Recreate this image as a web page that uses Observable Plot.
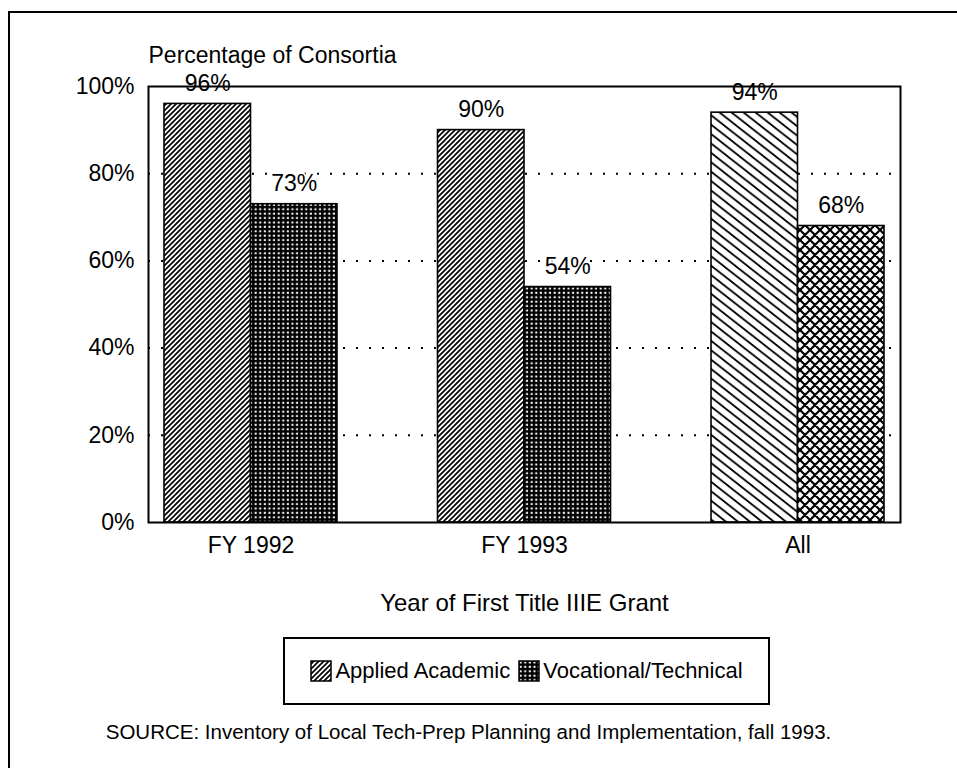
<!DOCTYPE html>
<html>
<head>
<meta charset="utf-8">
<script src="https://cdn.jsdelivr.net/npm/d3@7"></script>
<script src="https://cdn.jsdelivr.net/npm/@observablehq/plot@0.6"></script>
<style>
  html, body { margin: 0; padding: 0; background: #fff; }
  body { font-family: "Liberation Sans", Arial, Helvetica, sans-serif; color: #000; }
  #page { position: relative; width: 957px; height: 768px; overflow: hidden; background: #fff; }
  #border { position: absolute; left: 8px; top: 11px; width: 1200px; height: 1200px;
            border-left: 2px solid #000; border-top: 2px solid #000; box-sizing: border-box; }
  #chart { position: absolute; left: 0; top: 0; }
  #legend { position: absolute; left: 283px; top: 637px; width: 487px; height: 68px;
            border: 2px solid #000; box-sizing: border-box; display: flex; align-items: center;
            justify-content: center; font-size: 22px; background: #fff; }
  #legend .item { display: flex; align-items: center; }
  #legend .item + .item { margin-left: 8px; }
  #legend svg { margin-right: 3px; }
  #caption { position: absolute; left: -10px; width: 957px; top: 720px; text-align: center; font-size: 20.5px; }
  #defs { position: absolute; width: 0; height: 0; overflow: hidden; }
</style>
</head>
<body>
<div id="page">
  <svg id="defs" width="0" height="0">
    <defs>
      <pattern id="hatchDense" patternUnits="userSpaceOnUse" width="5" height="5">
        <rect width="5" height="5" fill="#fff"/>
        <path d="M0,5L5,0M-1,1L1,-1M4,6L6,4" stroke="#000" stroke-width="1.7"/>
      </pattern>
      <pattern id="hatchSparse" patternUnits="userSpaceOnUse" width="12" height="9.4">
        <rect width="12" height="9.4" fill="#fff"/>
        <path d="M0,0L12,9.4M10,-1.57L14,1.57M-2,7.83L2,10.97" stroke="#000" stroke-width="1.8"/>
      </pattern>
      <pattern id="gridDense" patternUnits="userSpaceOnUse" width="4.6" height="4.4">
        <rect width="4.6" height="4.4" fill="#000"/>
        <rect x="1.6" y="1.5" width="2.1" height="1.9" fill="#fff"/>
      </pattern>
      <pattern id="crossHatch" patternUnits="userSpaceOnUse" width="10" height="10">
        <rect width="10" height="10" fill="#fff"/>
        <path d="M0,0L10,10M8,-2L12,2M-2,8L2,12M0,10L10,0M-2,2L2,-2M8,12L12,8" stroke="#000" stroke-width="2.2"/>
      </pattern>
    </defs>
  </svg>
  <div id="border"></div>
  <div id="chart"></div>
  <div id="legend">
    <div class="item">
      <svg width="22" height="22"><rect x="1" y="1" width="20" height="20" fill="url(#hatchDense)" stroke="#000" stroke-width="1.5"/></svg>
      <span id="leg1"></span>
    </div>
    <div class="item">
      <svg width="22" height="22"><rect x="1" y="1" width="20" height="20" fill="url(#gridDense)" stroke="#000" stroke-width="1.5"/></svg>
      <span id="leg2"></span>
    </div>
  </div>
  <div id="caption"></div>
</div>
<script>
// ---- data ----
const groups = ["FY 1992", "FY 1993", "All"];
const seriesNames = ["Applied Academic", "Vocational/Technical"];
const appliedValues = [96, 90, 94];
const vocationalValues = [73, 54, 68];
const yTickValues = [0, 20, 40, 60, 80, 100];
const gridValues = [20, 40, 60, 80];
const yTitle = "Percentage of Consortia";
const xTitle = "Year of First Title IIIE Grant";
const captionText = "SOURCE: Inventory of Local Tech-Prep Planning and Implementation, fall 1993.";

// ---- table ----
const rows = groups.flatMap((g, i) => [
  {group: g, series: seriesNames[0], value: appliedValues[i]},
  {group: g, series: seriesNames[1], value: vocationalValues[i]}
]);

// ---- styling ----
function patternFor(d) {
  const summary = d.group === groups[groups.length - 1];
  if (d.series === seriesNames[0]) return summary ? "url(#hatchSparse)" : "url(#hatchDense)";
  return summary ? "url(#crossHatch)" : "url(#gridDense)";
}

const W = 957, H = 625;
const mL = 148, mR = 57, mT = 86, mB = 103;
const padInner = 0.3675, padOuter = 0.0585;
const step = (W - mL - mR) / (groups.length - padInner + 2 * padOuter);
const half = step * (1 - padInner) / 2;

const applied = rows.filter(d => d.series === seriesNames[0]);
const vocational = rows.filter(d => d.series === seriesNames[1]);

const chart = Plot.plot({
  width: W, height: H,
  marginLeft: mL, marginRight: mR, marginTop: mT, marginBottom: mB,
  style: {fontFamily: '"Liberation Sans", Arial, sans-serif', fontSize: "23px", background: "transparent", color: "#000"},
  x: {domain: groups, paddingInner: padInner, paddingOuter: padOuter, round: false,
      tickSize: 0, tickPadding: 14, label: null},
  y: {domain: [0, 100], ticks: yTickValues, tickSize: 0, tickPadding: 14,
      tickFormat: d => d + "%", label: null},
  color: {type: "identity"},
  marks: [
    Plot.ruleY(gridValues, {stroke: "#000", strokeWidth: 2, strokeDasharray: "2,11"}),
    Plot.barY(applied, {x: "group", y: "value", fill: patternFor, stroke: "#000", strokeWidth: 1.6, insetRight: half}),
    Plot.barY(vocational, {x: "group", y: "value", fill: patternFor, stroke: "#000", strokeWidth: 1.6, insetLeft: half}),
    Plot.text(applied, {x: "group", y: "value", text: d => d.value + "%", dx: -half / 2, dy: -13,
      lineAnchor: "bottom", fontSize: 23, stroke: "#fff", strokeWidth: 4, fill: "#000"}),
    Plot.text(vocational, {x: "group", y: "value", text: d => d.value + "%", dx: half / 2, dy: -13,
      lineAnchor: "bottom", fontSize: 23, stroke: "#fff", strokeWidth: 4, fill: "#000"}),
    Plot.text([yTitle], {text: d => d, frameAnchor: "top-left", textAnchor: "start", lineAnchor: "middle",
      dy: -31, fontSize: 23}),
    Plot.text([xTitle], {text: d => d, frameAnchor: "bottom", lineAnchor: "middle", dy: 81, fontSize: 24}),
    Plot.frame({stroke: "#000", strokeWidth: 2})
  ]
});
document.getElementById("chart").appendChild(chart);
document.getElementById("leg1").textContent = seriesNames[0];
document.getElementById("leg2").textContent = seriesNames[1];
document.getElementById("caption").textContent = captionText;
</script>
</body>
</html>
